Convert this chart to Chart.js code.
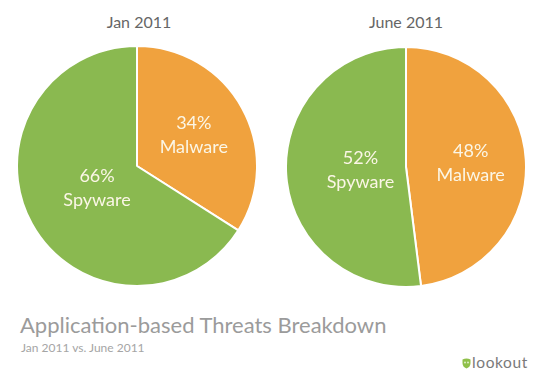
<!DOCTYPE html>
<html>
<head>
<meta charset="utf-8">
<script src="https://cdn.jsdelivr.net/npm/chart.js@4.4.0/dist/chart.umd.min.js"></script>
<style>
  html,body{margin:0;padding:0;background:#fff;}
  body{width:549px;height:378px;position:relative;overflow:hidden;font-family:Lato,"Open Sans",sans-serif;}
  .box{position:absolute;width:242px;height:242px;}
  .ptitle{position:absolute;font-size:16px;color:#666;text-align:center;width:160px;line-height:16px;}
  #title{position:absolute;left:20px;top:314px;font-size:22px;color:#9b9b9b;line-height:22px;white-space:nowrap;}
  #sub{position:absolute;left:21px;top:342px;font-size:12px;color:#a5a5a5;line-height:12px;white-space:nowrap;}
  #logo{position:absolute;left:462px;top:355px;font-size:15.5px;color:#7a7a7a;line-height:15px;letter-spacing:0.6px;white-space:nowrap;}
  #logo svg{vertical-align:-1px;margin-right:1px;}
</style>
</head>
<body>
<div class="ptitle" style="left:59px;top:14px;" id="t1"></div>
<div class="ptitle" style="left:326px;top:14px;" id="t2"></div>
<div class="box" style="left:16px;top:45px;"><canvas id="c1"></canvas></div>
<div class="box" style="left:285px;top:46px;"><canvas id="c2"></canvas></div>
<div id="title">Application-based Threats Breakdown</div>
<div id="sub">Jan 2011 vs. June 2011</div>
<div id="logo"><svg width="9" height="11" viewBox="0 0 9 11"><path d="M0.5 1.5 Q4.5 -0.5 8.5 1.5 L8.5 5 Q8.5 9 4.5 10.5 Q0.5 9 0.5 5 Z" fill="#8fc04a"/><circle cx="3" cy="4.5" r="1" fill="#dfeec8"/><circle cx="6" cy="4.5" r="1" fill="#dfeec8"/></svg>lookout</div>
<script>
const periods = ["Jan 2011", "June 2011"];
const categories = ["Malware", "Spyware"];
const jan2011 = [34, 66];
const june2011 = [48, 52];

const colors = ["#f0a23e", "#8ab950"];
const labelRadius = [0.54, 0.38];

document.getElementById('t1').textContent = periods[0];
document.getElementById('t2').textContent = periods[1];

const labelPlugin = {
  id: 'sliceLabels',
  afterDatasetsDraw(chart) {
    const ctx = chart.ctx;
    const meta = chart.getDatasetMeta(0);
    const data = chart.data.datasets[0].data;
    ctx.save();
    ctx.fillStyle = '#fbf6e6';
    ctx.textAlign = 'center';
    ctx.textBaseline = 'middle';
    ctx.font = '18px Lato, "Open Sans", sans-serif';
    meta.data.forEach((arc, i) => {
      const p = arc.getProps(['x','y','startAngle','endAngle','outerRadius'], true);
      const mid = (p.startAngle + p.endAngle) / 2;
      const r = p.outerRadius * labelRadius[i];
      const px = p.x + Math.cos(mid) * r;
      const py = p.y + Math.sin(mid) * r;
      ctx.fillText(data[i] + '%', px, py - 12);
      ctx.fillText(chart.data.labels[i], px, py + 12);
    });
    ctx.restore();
  }
};

function makePie(id, values) {
  new Chart(document.getElementById(id), {
    type: 'pie',
    data: {
      labels: categories,
      datasets: [{
        data: values,
        backgroundColor: colors,
        borderColor: '#ffffff',
        borderWidth: 2
      }]
    },
    options: {
      responsive: true,
      maintainAspectRatio: false,
      animation: false,
      layout: { padding: 0 },
      plugins: { legend: { display: false }, tooltip: { enabled: false } }
    },
    plugins: [labelPlugin]
  });
}
makePie('c1', jan2011);
makePie('c2', june2011);
</script>
</body>
</html>
